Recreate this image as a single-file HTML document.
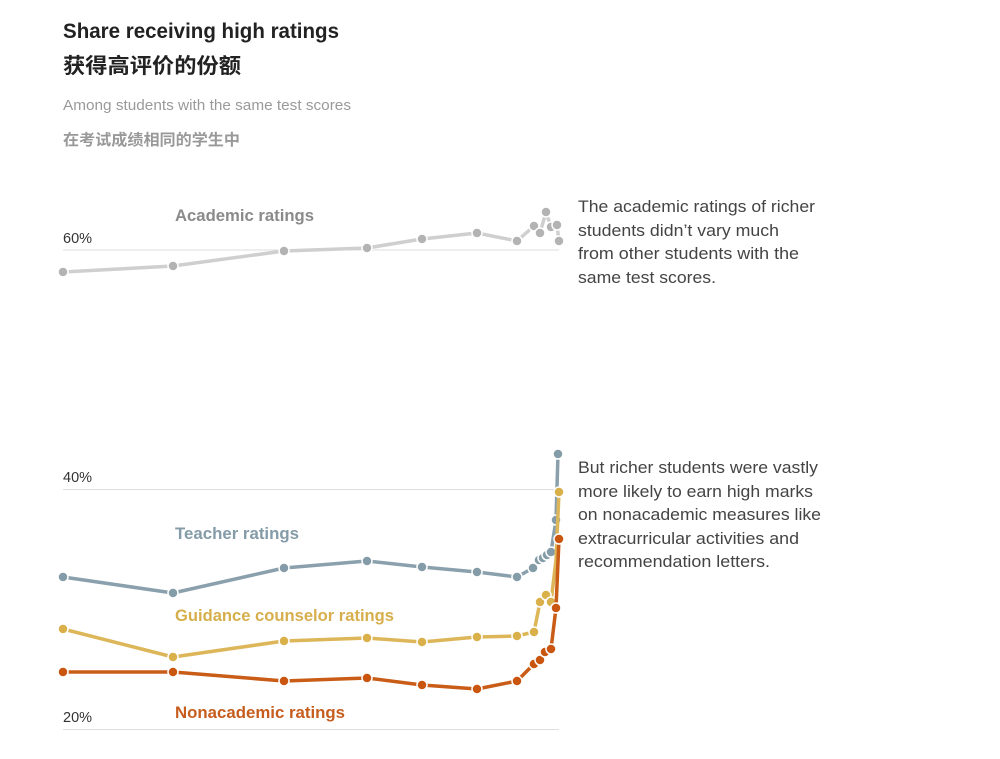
<!DOCTYPE html>
<html><head><meta charset="utf-8"><style>
html,body{margin:0;padding:0;background:#fff;}
svg{display:block;}
text{font-family:"Liberation Sans","Noto Sans CJK SC",sans-serif;}
</style></head><body>
<svg width="1000" height="759" viewBox="0 0 1000 759" xmlns="http://www.w3.org/2000/svg">
<rect width="1000" height="759" fill="#fff"/>
<!-- titles -->
<text x="63" y="38" font-size="21" font-weight="bold" fill="#222" textLength="276" lengthAdjust="spacingAndGlyphs">Share receiving high ratings</text>
<text x="63" y="73" font-size="21" font-weight="bold" fill="#222" font-family="'Noto Sans CJK SC',sans-serif" textLength="178" lengthAdjust="spacingAndGlyphs">获得高评价的份额</text>
<text x="63" y="110" font-size="14.5" fill="#9a9a9a" textLength="288" lengthAdjust="spacingAndGlyphs">Among students with the same test scores</text>
<text x="63" y="145" font-size="15.5" font-weight="bold" fill="#999" font-family="'Noto Sans CJK SC',sans-serif" textLength="177" lengthAdjust="spacingAndGlyphs">在考试成绩相同的学生中</text>

<!-- gridlines -->
<g stroke="#dedede" stroke-width="1">
<line x1="63" y1="250" x2="559" y2="250"/>
<line x1="63" y1="489.5" x2="559" y2="489.5"/>
<line x1="63" y1="729.5" x2="559" y2="729.5"/>
</g>
<g font-size="14.5" fill="#333">
<text x="63" y="243">60%</text>
<text x="63" y="482">40%</text>
<text x="63" y="722">20%</text>
</g>

<!-- series labels -->
<g font-size="17" font-weight="bold">
<text x="175" y="221" fill="#8a8a8a" textLength="139" lengthAdjust="spacingAndGlyphs">Academic ratings</text>
<text x="175" y="539" fill="#849ba8" textLength="124" lengthAdjust="spacingAndGlyphs">Teacher ratings</text>
<text x="175" y="621" fill="#d6ae4c" textLength="219" lengthAdjust="spacingAndGlyphs">Guidance counselor ratings</text>
<text x="175" y="718" fill="#c65d1e" textLength="170" lengthAdjust="spacingAndGlyphs">Nonacademic ratings</text>
</g>

<!-- Academic -->
<g>
<polyline fill="none" stroke="#cfcfcf" stroke-width="3.5" stroke-linejoin="round" points="63,272 173,266 284,251 367,248 422,239 477,233 517,241 534,226 540,233 546,212 551,227 557,225 559,241"/>
<g fill="#b3b3b3" stroke="#fff" stroke-width="1.5">
<circle cx="63" cy="272" r="5"/><circle cx="173" cy="266" r="5"/><circle cx="284" cy="251" r="5"/><circle cx="367" cy="248" r="5"/><circle cx="422" cy="239" r="5"/><circle cx="477" cy="233" r="5"/><circle cx="517" cy="241" r="5"/><circle cx="534" cy="226" r="5"/><circle cx="540" cy="233" r="5"/><circle cx="546" cy="212" r="5"/><circle cx="551" cy="227" r="5"/><circle cx="557" cy="225" r="5"/><circle cx="559" cy="241" r="5"/>
</g>
</g>

<!-- Teacher -->
<g>
<polyline fill="none" stroke="#8aa0ac" stroke-width="3.5" stroke-linejoin="round" points="63,577 173,593 284,568 367,561 422,567 477,572 517,577 533,568 539,560 543,558 547,555 551,552 556,520 558,454"/>
<g fill="#849ba8" stroke="#fff" stroke-width="1.5">
<circle cx="63" cy="577" r="5"/><circle cx="173" cy="593" r="5"/><circle cx="284" cy="568" r="5"/><circle cx="367" cy="561" r="5"/><circle cx="422" cy="567" r="5"/><circle cx="477" cy="572" r="5"/><circle cx="517" cy="577" r="5"/><circle cx="533" cy="568" r="5"/><circle cx="539" cy="560" r="5"/><circle cx="543" cy="558" r="5"/><circle cx="547" cy="555" r="5"/><circle cx="551" cy="552" r="5"/><circle cx="556" cy="520" r="5"/><circle cx="558" cy="454" r="5"/>
</g>
</g>

<!-- Guidance -->
<g>
<polyline fill="none" stroke="#dcb658" stroke-width="3.5" stroke-linejoin="round" points="63,629 173,657 284,641 367,638 422,642 477,637 517,636 534,632 540,602 546,595 551,602 556,560 559,492"/>
<g fill="#d9b04a" stroke="#fff" stroke-width="1.5">
<circle cx="63" cy="629" r="5"/><circle cx="173" cy="657" r="5"/><circle cx="284" cy="641" r="5"/><circle cx="367" cy="638" r="5"/><circle cx="422" cy="642" r="5"/><circle cx="477" cy="637" r="5"/><circle cx="517" cy="636" r="5"/><circle cx="534" cy="632" r="5"/><circle cx="540" cy="602" r="5"/><circle cx="546" cy="595" r="5"/><circle cx="551" cy="602" r="5"/><circle cx="559" cy="492" r="5"/>
</g>
</g>

<!-- Nonacademic -->
<g>
<polyline fill="none" stroke="#c95c16" stroke-width="3.5" stroke-linejoin="round" points="63,672 173,672 284,681 367,678 422,685 477,689 517,681 534,664 540,660 545,652 551,649 556,608 559,539"/>
<g fill="#c9550f" stroke="#fff" stroke-width="1.5">
<circle cx="63" cy="672" r="5"/><circle cx="173" cy="672" r="5"/><circle cx="284" cy="681" r="5"/><circle cx="367" cy="678" r="5"/><circle cx="422" cy="685" r="5"/><circle cx="477" cy="689" r="5"/><circle cx="517" cy="681" r="5"/><circle cx="534" cy="664" r="5"/><circle cx="540" cy="660" r="5"/><circle cx="545" cy="652" r="5"/><circle cx="551" cy="649" r="5"/><circle cx="556" cy="608" r="5"/><circle cx="559" cy="539" r="5"/>
</g>
</g>

<!-- annotations -->
<g font-size="16.5" fill="#444">
<text x="578" y="212" textLength="237" lengthAdjust="spacingAndGlyphs">The academic ratings of richer</text>
<text x="578" y="236" textLength="201" lengthAdjust="spacingAndGlyphs">students didn’t vary much</text>
<text x="578" y="259" textLength="221" lengthAdjust="spacingAndGlyphs">from other students with the</text>
<text x="578" y="283" textLength="138" lengthAdjust="spacingAndGlyphs">same test scores.</text>
<text x="578" y="473" textLength="240" lengthAdjust="spacingAndGlyphs">But richer students were vastly</text>
<text x="578" y="497" textLength="235" lengthAdjust="spacingAndGlyphs">more likely to earn high marks</text>
<text x="578" y="520" textLength="243" lengthAdjust="spacingAndGlyphs">on nonacademic measures like</text>
<text x="578" y="544" textLength="221" lengthAdjust="spacingAndGlyphs">extracurricular activities and</text>
<text x="578" y="567" textLength="192" lengthAdjust="spacingAndGlyphs">recommendation letters.</text>
</g>
</svg>
</body></html>
